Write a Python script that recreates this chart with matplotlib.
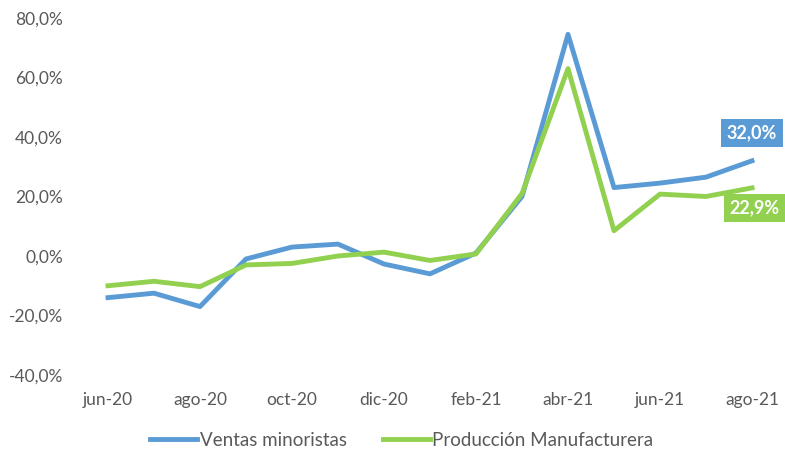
import matplotlib
matplotlib.use("Agg")
import matplotlib.pyplot as plt
import matplotlib.ticker as pltticker

meses = ["jun-20", "jul-20", "ago-20", "sep-20", "oct-20", "nov-20", "dic-20",
         "ene-21", "feb-21", "mar-21", "abr-21", "may-21", "jun-21", "jul-21", "ago-21"]
ventas = [-14.0, -12.5, -17.0, -1.0, 3.0, 4.0, -2.7, -6.0, 1.0, 20.0, 74.5,
          23.0, 24.5, 26.5, 32.0]
produccion = [-10.0, -8.5, -10.3, -3.0, -2.5, 0.0, 1.3, -1.5, 0.7, 21.0, 63.0,
              8.5, 20.8, 20.0, 22.9]

azul = "#5B9BD5"
verde = "#92D050"
gris = "#595959"

plt.rcParams["font.family"] = ["Lato", "DejaVu Sans"]

fig = plt.figure(figsize=(7.85, 4.55), dpi=100)
ax = fig.add_axes([85 / 785, 1 - 375 / 455, 690 / 785, 357 / 455])

x = list(range(len(meses)))
ax.plot(x, ventas, color=azul, linewidth=3.5, label="Ventas minoristas")
ax.plot(x, produccion, color=verde, linewidth=3.5, label="Producción Manufacturera")

ax.set_xlim(-0.5, len(meses) - 0.5)
ax.set_ylim(-40, 80)
ax.yaxis.set_major_locator(pltticker.MultipleLocator(20))
ax.yaxis.set_major_formatter(pltticker.FuncFormatter(
    lambda v, p: f"{v:.1f}%".replace(".", ",")))
ax.set_xticks(x[::2])
ax.set_xticklabels(meses[::2])

for s in ax.spines.values():
    s.set_visible(False)
ax.tick_params(length=0, colors=gris)
ax.tick_params(axis="y", pad=16, labelsize=12.5)
ax.tick_params(axis="x", pad=12, labelsize=12.5)

# etiquetas del último dato
ax.annotate(f"{ventas[-1]:.1f}%".replace(".", ","), (x[-1], ventas[-1]),
            xytext=(0, 20), textcoords="offset points", ha="center", va="center",
            color="white", fontsize=13, fontweight="bold",
            bbox=dict(boxstyle="square,pad=0.3", fc=azul, ec="none"))
ax.annotate(f"{produccion[-1]:.1f}%".replace(".", ","), (x[-1], produccion[-1]),
            xytext=(2, -14.5), textcoords="offset points", ha="center", va="center",
            color="white", fontsize=13, fontweight="bold",
            bbox=dict(boxstyle="square,pad=0.3", fc=verde, ec="none"))

leg = fig.legend(loc="center", bbox_to_anchor=(0.512, 1 - 440 / 455), ncol=2,
                 frameon=False, handlelength=2.5, handletextpad=0.15,
                 columnspacing=1.9, fontsize=13.5)
for t in leg.get_texts():
    t.set_color(gris)

fig.savefig("out.png", dpi=100)
